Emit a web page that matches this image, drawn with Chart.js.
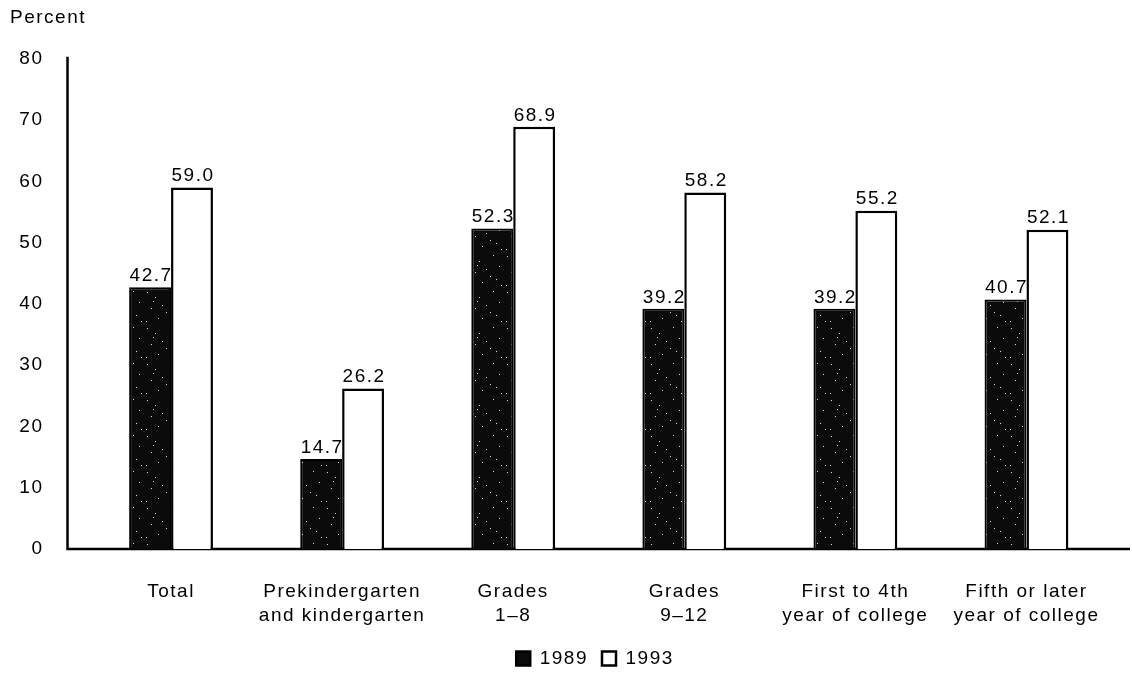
<!DOCTYPE html>
<html>
<head>
<meta charset="utf-8">
<script src="https://cdn.jsdelivr.net/npm/chart.js@4.4.1/dist/chart.umd.min.js"></script>
<style>
  html, body { margin: 0; padding: 0; background: #fff; }
  #wrap { width: 1132px; height: 678px; }
</style>
</head>
<body>
<div id="wrap"><canvas id="chart"></canvas></div>
<script>
// Chart data
const categories = [
    'Total',
    ['Prekindergarten', 'and kindergarten'],
    ['Grades', '1\u20138'],
    ['Grades', '9\u201312'],
    ['First to 4th', 'year of college'],
    ['Fifth or later', 'year of college']
];
const values1989 = [42.7, 14.7, 52.3, 39.2, 39.2, 40.7];
const values1993 = [59.0, 26.2, 68.9, 58.2, 55.2, 52.1];
const yTicks = [0, 10, 20, 30, 40, 50, 60, 70, 80];

const FONT = '"Liberation Sans", Arial, Helvetica, sans-serif';
const SIZE = 19;
Chart.defaults.font.family = FONT;
Chart.defaults.color = '#000';

// speckled black fill, like the printed bars
function speckle() {
    const c = document.createElement('canvas');
    c.width = 36; c.height = 36;
    const g = c.getContext('2d');
    g.fillStyle = '#0b0b0b';
    g.fillRect(0, 0, 36, 36);
    g.fillStyle = '#ddd';
    const dots = [[3,4],[11,9],[25,3],[31,14],[7,20],[18,17],[28,27],[14,30],[2,33],[22,24],[33,33],[9,13]];
    dots.forEach(d => g.fillRect(d[0], d[1], 1, 1));
    return g.createPattern(c, 'repeat');
}

// the printed type is a bit tracked out
const tracking = {
    id: 'tracking',
    beforeUpdate(chart) { chart.ctx.letterSpacing = '1.5px'; },
    beforeDraw(chart) { chart.ctx.letterSpacing = '1.5px'; },
    afterLayout(chart) {
        // legend sits a little right of centre in the original
        chart.legend.left += 34;
        chart.legend.right += 34;
    }
};

// axis lines: vertical axis sits left of the first category
const axisLines = {
    id: 'axisLines',
    beforeDatasetsDraw(chart) {
        const { ctx, chartArea, scales } = chart;
        const x0 = chartArea.left - 18;
        ctx.save();
        ctx.strokeStyle = '#000';
        ctx.lineWidth = 2.5;
        ctx.beginPath();
        ctx.moveTo(x0, scales.y.getPixelForValue(80) - 2);
        ctx.lineTo(x0, chartArea.bottom);
        ctx.lineTo(chart.width - 2, chartArea.bottom);
        ctx.stroke();
        ctx.restore();
    }
};

// value labels above each bar
const valueLabels = {
    id: 'valueLabels',
    afterDatasetsDraw(chart) {
        const ctx = chart.ctx;
        ctx.save();
        ctx.font = SIZE + 'px ' + FONT;
        ctx.fillStyle = '#000';
        ctx.textAlign = 'center';
        ctx.textBaseline = 'bottom';
        chart.data.datasets.forEach((ds, i) => {
            chart.getDatasetMeta(i).data.forEach((bar, j) => {
                ctx.fillText(ds.data[j].toFixed(1), bar.x + 1, bar.y - 2);
            });
        });
        ctx.restore();
    }
};

const ctx = document.getElementById('chart').getContext('2d');
new Chart(ctx, {
    type: 'bar',
    data: {
        labels: categories,
        datasets: [
            {
                label: '1989',
                data: values1989,
                backgroundColor: speckle(),
                borderColor: '#000',
                borderWidth: 2,
                categoryPercentage: 0.49,
                barPercentage: 1
            },
            {
                label: '1993',
                data: values1993,
                backgroundColor: '#fff',
                borderColor: '#000',
                borderWidth: 2.5,
                categoryPercentage: 0.49,
                barPercentage: 1
            }
        ]
    },
    options: {
        responsive: true,
        maintainAspectRatio: false,
        animation: false,
        layout: { padding: { left: 10, right: 20, top: 0, bottom: 0 } },
        plugins: {
            title: {
                display: true,
                text: 'Percent',
                align: 'start',
                font: { size: SIZE, weight: 'normal' },
                padding: { top: 6, bottom: 30 }
            },
            legend: {
                position: 'bottom',
                labels: {
                    font: { size: SIZE },
                    boxWidth: 14,
                    boxHeight: 14,
                    padding: 14,
                    generateLabels(chart) {
                        return chart.data.datasets.map((ds, i) => ({
                            text: ds.label,
                            fillStyle: i === 0 ? '#0b0b0b' : '#fff',
                            strokeStyle: '#000',
                            lineWidth: 2.5,
                            fontColor: '#000',
                            datasetIndex: i
                        }));
                    }
                }
            },
            tooltip: { enabled: false }
        },
        scales: {
            x: {
                grid: { display: false },
                border: { display: false },
                ticks: { font: { size: SIZE, lineHeight: 1.3 }, padding: 22, maxRotation: 0 },
                afterFit(scale) { scale.height = 86; }
            },
            y: {
                min: 0,
                max: 80,
                afterBuildTicks(scale) { scale.ticks = yTicks.map(v => ({ value: v })); },
                grid: { display: false, drawTicks: false },
                border: { display: false },
                ticks: { font: { size: SIZE }, padding: 42 },
                afterFit(scale) { scale.width = 75.5; }
            }
        }
    },
    plugins: [tracking, axisLines, valueLabels]
});
</script>
</body>
</html>
